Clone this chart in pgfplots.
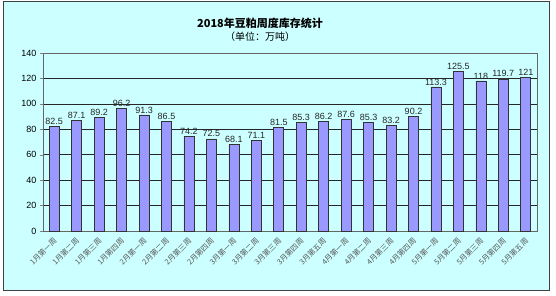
\documentclass[border=0pt]{standalone}
\usepackage{fontspec}
\setmainfont{Liberation Sans}
\newfontfamily\cjk{Noto Sans CJK SC}
\usepackage{pgfplots}
\pgfplotsset{compat=1.18}
\definecolor{bgcyan}{HTML}{CCFFFF}
\definecolor{barfill}{HTML}{9999FF}
\begin{document}
\begin{tikzpicture}[x=1pt,y=1pt]
\fill[white] (0,0) rectangle (556,295);
\filldraw[fill=bgcyan, draw=black!75, line width=0.8pt] (3,5) rectangle (549,294);
\node[font=\cjk\bfseries\fontsize{11}{13}\selectfont] at (260,272) {2018年豆粕周度库存统计};
\node[font=\cjk\fontsize{10}{12}\selectfont] at (260,258) {（单位：万吨）};
\begin{axis}[
  at={(43pt,64pt)}, anchor=south west,
  scale only axis, width=494pt, height=178pt,
  ymin=0, ymax=140, ytick={0,20,...,140},
  xmin=-0.5, xmax=21.5, enlarge x limits=false,
  ybar, bar width=10pt,
  ymajorgrids, grid style={black!85, line width=0.5pt},
  axis line style={black!60},
  tick align=outside, xtick pos=bottom, ytick pos=left,
  major tick length=3pt,
  xtick={0,...,21},
  x tick style={draw=none},
  minor xtick={-0.5,0.5,...,21.5},
  minor x tick style={black!80},
  minor tick length=3pt,
  xticklabels={1月第一周,1月第二周,1月第三周,1月第四周,2月第一周,2月第二周,2月第三周,2月第四周,3月第一周,3月第二周,3月第三周,3月第四周,3月第五周,4月第一周,4月第二周,4月第三周,4月第四周,5月第一周,5月第二周,5月第三周,5月第四周,5月第五周},
  xticklabel style={rotate=45, anchor=north east, font=\cjk\fontsize{7.5}{8}\selectfont, text=black!65, inner sep=1pt, xshift=-2pt},
  yticklabel style={font=\fontsize{9}{10}\selectfont, text=black},
  /pgf/number format/assume math mode=true,
  nodes near coords,
  every node near coord/.append style={font=\fontsize{9}{10}\selectfont, text=black!85, inner sep=1.5pt},
]
\addplot[fill=barfill, draw=black!80, line width=0.6pt] coordinates {
(0,82.5) (1,87.1) (2,89.2) (3,96.2) (4,91.3) (5,86.5) (6,74.2) (7,72.5)
(8,68.1) (9,71.1) (10,81.5) (11,85.3) (12,86.2) (13,87.6) (14,85.3) (15,83.2)
(16,90.2) (17,113.3) (18,125.5) (19,118) (20,119.7) (21,121)
};
\end{axis}
\end{tikzpicture}
\end{document}
